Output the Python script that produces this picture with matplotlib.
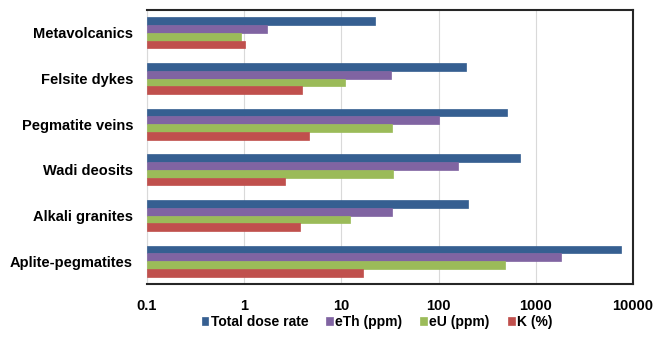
import numpy as np
import matplotlib
matplotlib.use('Agg')
import matplotlib.pyplot as plt
from matplotlib.ticker import FixedLocator, NullLocator

plt.rcParams['font.family'] = ['Liberation Sans', 'DejaVu Sans']

# Rock units, top to bottom as shown
units = ['Metavolcanics', 'Felsite dykes', 'Pegmatite veins',
         'Wadi deosits', 'Alkali granites', 'Aplite-pegmatites']

total_dose = [22.3, 191, 501, 688, 200, 7590]
eth_ppm = [1.6, 31.9, 100, 160, 33.2, 1830]
eu_ppm = [0.83, 10.8, 33.2, 33.6, 12.3, 486]
k_pct = [0.91, 3.87, 4.57, 2.5, 3.66, 16.7]

series = [
    ('Total dose rate', total_dose, '#365f91'),
    ('eTh (ppm)', eth_ppm, '#8064a2'),
    ('eU (ppm)', eu_ppm, '#9bbb59'),
    ('K (%)', k_pct, '#c0504d'),
]

fig = plt.figure(figsize=(6.54, 3.41), dpi=100)
ax = fig.add_axes([147 / 654, 1 - 284 / 341, (633 - 147) / 654, (284 - 10) / 341])

y = np.arange(len(units))
h = 0.17
for i, (name, vals, col) in enumerate(series):
    ax.barh(y + (i - 1.5) * h, vals, height=h, left=0.1, color=col,
            edgecolor=col, linewidth=0.5, label=name, zorder=3)

ax.set_xscale('log')
ax.set_xlim(0.1, 10000)
ax.set_ylim(len(units) - 0.5, -0.5)
ax.xaxis.set_major_locator(FixedLocator([0.1, 1, 10, 100, 1000, 10000]))
ax.xaxis.set_minor_locator(NullLocator())
ax.set_xticklabels(['0.1', '1', '10', '100', '1000', '10000'])
ax.set_yticks(y)
ax.set_yticklabels(units)
ax.tick_params(axis='both', length=0, labelsize=10.5)
ax.tick_params(axis='x', pad=11)
ax.tick_params(axis='y', pad=10)
for lbl in ax.get_xticklabels() + ax.get_yticklabels():
    lbl.set_fontweight('bold')

ax.grid(axis='x', color='#d9d9d9', linewidth=0.8, zorder=0)
for side in ['top', 'right', 'bottom']:
    ax.spines[side].set_color('#262626')
    ax.spines[side].set_linewidth(1.5)
ax.spines['left'].set_color('#d9d9d9')
ax.spines['left'].set_linewidth(0.8)

leg = fig.legend(loc='center', bbox_to_anchor=(377 / 654, 1 - 322 / 341), ncol=4,
                 frameon=False, handlelength=0.5, handleheight=0.5,
                 handletextpad=0.15, columnspacing=1.3,
                 prop={'weight': 'bold', 'size': 10})

fig.savefig('out.png', dpi=100)
